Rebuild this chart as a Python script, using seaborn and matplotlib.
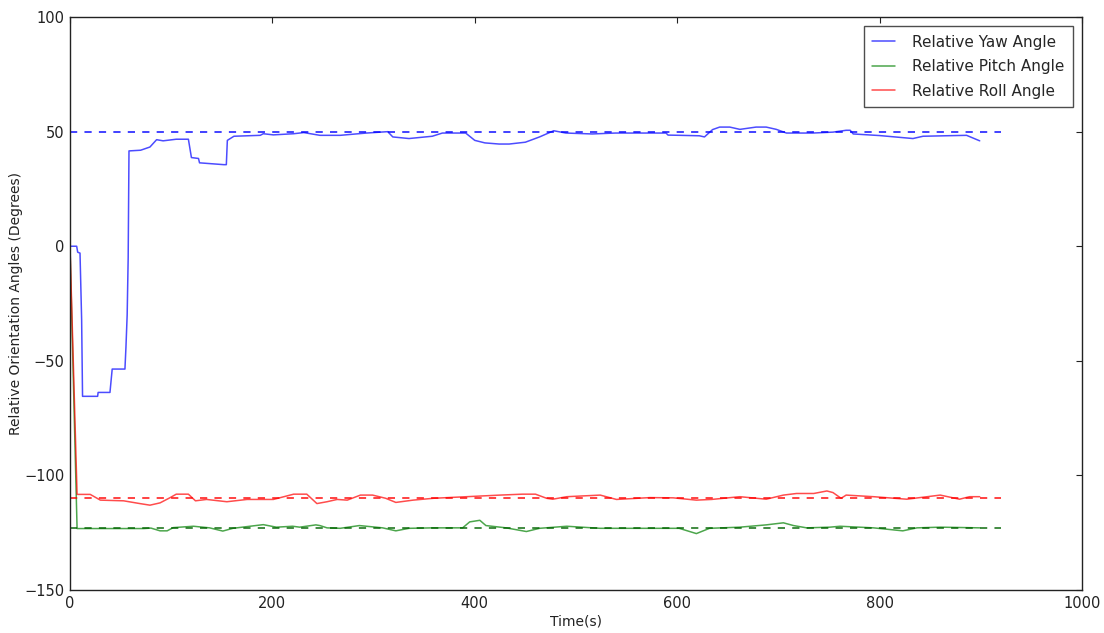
import matplotlib
matplotlib.use("Agg")
import matplotlib.pyplot as plt
import seaborn as sns
import pandas as pd

# Relative yaw angle (degrees) over time (s)
yaw_t = [0, 6.6, 7.6, 9.9, 11.5, 12.4, 27.3, 27.8, 39.5, 41.7, 54.3, 55.3, 56.5,
         57.5, 58.3, 69.8, 79, 85.6, 92, 105, 117, 120, 127, 128, 152, 154.5, 155.5,
         162, 188, 191, 201, 221, 231, 247, 267, 293, 314, 319, 335, 358, 368, 391,
         400, 410, 424, 434, 450, 464, 478, 490, 516, 539, 589, 591, 603, 622, 627,
         635, 642, 652, 662, 678, 688, 698, 708, 734, 754, 767, 771, 774, 800, 833,
         843, 886, 899]
yaw_v = [0, 0, -2.6, -3, -32, -65.5, -65.5, -63.8, -63.8, -53.6, -53.6, -44, -30,
         -5, 41.6, 41.9, 43.3, 46.5, 46, 46.7, 46.7, 38.7, 38.3, 36.4, 35.6, 35.6,
         46.2, 48, 48.4, 49.1, 48.6, 49.1, 49.6, 48.4, 48.4, 49.4, 50, 47.7, 47, 48,
         49.4, 49.4, 46.2, 45.1, 44.6, 44.6, 45.4, 47.7, 50.4, 49.4, 49, 49.4, 49.4,
         48.5, 48.4, 48.2, 47.7, 50.9, 52, 52, 51, 52, 52, 51, 49.4, 49.4, 49.8,
         50.6, 50.6, 49, 48.3, 47, 48, 48.4, 46]

# Relative pitch angle (degrees) over time (s)
pitch_t = [0, 7, 30, 73, 80, 89, 96, 102, 122, 138, 151, 161, 191, 204, 220, 227,
           243, 247, 254, 267, 286, 309, 322, 335, 359, 388, 395, 405, 411, 431,
           451, 464, 491, 524, 573, 602, 619, 632, 662, 688, 705, 715, 728, 751,
           761, 794, 823, 837, 860, 899]
pitch_v = [0, -123.2, -123.2, -123.2, -123, -124.2, -124.2, -122.8, -122.2, -122.9,
           -124.3, -123.1, -121.5, -122.6, -122.2, -122.6, -121.6, -121.9, -122.9,
           -123.1, -121.9, -122.9, -124.2, -123.1, -122.9, -122.9, -120.3, -119.6,
           -121.9, -122.9, -124.5, -123.1, -122.2, -123.1, -123.1, -123.1, -125.4,
           -123.1, -122.6, -121.6, -120.7, -121.9, -122.9, -122.6, -122.2, -122.9,
           -124.2, -122.9, -122.6, -122.9]

# Relative roll angle (degrees) over time (s)
roll_t = [0, 7, 20, 30, 53, 69, 79, 89, 99, 105, 117, 124, 135, 155, 175, 201,
          221, 234, 244, 254, 264, 274, 287, 299, 312, 322, 339, 359, 392, 425,
          447, 460, 471, 477, 491, 524, 540, 573, 596, 619, 634, 662, 688, 705,
          718, 735, 748, 754, 762, 767, 794, 827, 860, 879, 889, 899]
roll_v = [0, -108.3, -108.3, -110.8, -111.1, -112.3, -113, -112, -109.7, -108.2,
          -108.2, -111.1, -110.5, -111.5, -110.5, -110.5, -108.2, -108.2, -112.3,
          -111.5, -110.5, -110.8, -108.6, -108.6, -110, -111.8, -110.8, -110,
          -109.3, -108.6, -108.2, -108.2, -110, -110.4, -109.3, -108.6, -110.5,
          -109.7, -109.8, -110.8, -110.5, -109.3, -110.4, -108.6, -107.9, -107.9,
          -106.8, -107.5, -110, -108.6, -109.3, -110.4, -108.6, -110.4, -109.3,
          -109.3]

series_names = ["Relative Yaw Angle", "Relative Pitch Angle", "Relative Roll Angle"]
series_colors = ["#0000ff", "#008000", "#ff0000"]

# Target (reference) angle for each series, drawn as dashed lines
ref_values = [50, -123, -110]
ref_colors = ["#0000ff", "#006400", "#ff0000"]
ref_span = [0, 920]

fig = plt.figure(figsize=(11.04, 6.33), dpi=100)
sns.set_style("white")
plt.rcParams["font.family"] = ["DejaVu Sans"]
ax = fig.add_axes([0.0634, 0.068, 0.9166, 0.905])

for name, color, t, v in zip(series_names, series_colors,
                             [yaw_t, pitch_t, roll_t], [yaw_v, pitch_v, roll_v]):
    df = pd.DataFrame({"t": t, "v": v})
    sns.lineplot(data=df, x="t", y="v", ax=ax, color=color, alpha=0.7,
                 linewidth=1.1, label=name, sort=False, estimator=None)

for ref, color in zip(ref_values, ref_colors):
    df = pd.DataFrame({"t": ref_span, "v": [ref, ref]})
    sns.lineplot(data=df, x="t", y="v", ax=ax, color=color, alpha=0.8,
                 linewidth=1.3, linestyle=(0, (4, 4)), estimator=None)

ax.set_xlim(0, 1000)
ax.set_ylim(-150, 100)
ax.set_xticks([0, 200, 400, 600, 800, 1000])
ax.set_yticks([-150, -100, -50, 0, 50, 100])
ax.set_yticklabels(["\u2212150", "\u2212100", "\u221250", "0", "50", "100"])
ax.tick_params(direction="in", top=True, right=True, length=4, width=0.8,
               labelsize=10.5, colors="#222222", pad=4)
for s in ax.spines.values():
    s.set_color("#222222")
    s.set_linewidth(1.0)

ax.set_xlabel("Time(s)", fontsize=10, color="#222222", labelpad=3)
ax.set_ylabel("Relative Orientation Angles (Degrees)", fontsize=10,
              color="#222222", labelpad=1)

leg = ax.legend(loc="upper right", fontsize=11, frameon=True, fancybox=False,
                edgecolor="#222222", handlelength=1.5, handletextpad=1.1,
                borderpad=0.55, labelspacing=0.62, borderaxespad=0.6)
leg.get_frame().set_linewidth(1.0)

fig.savefig("out.png", dpi=100, facecolor="white")
